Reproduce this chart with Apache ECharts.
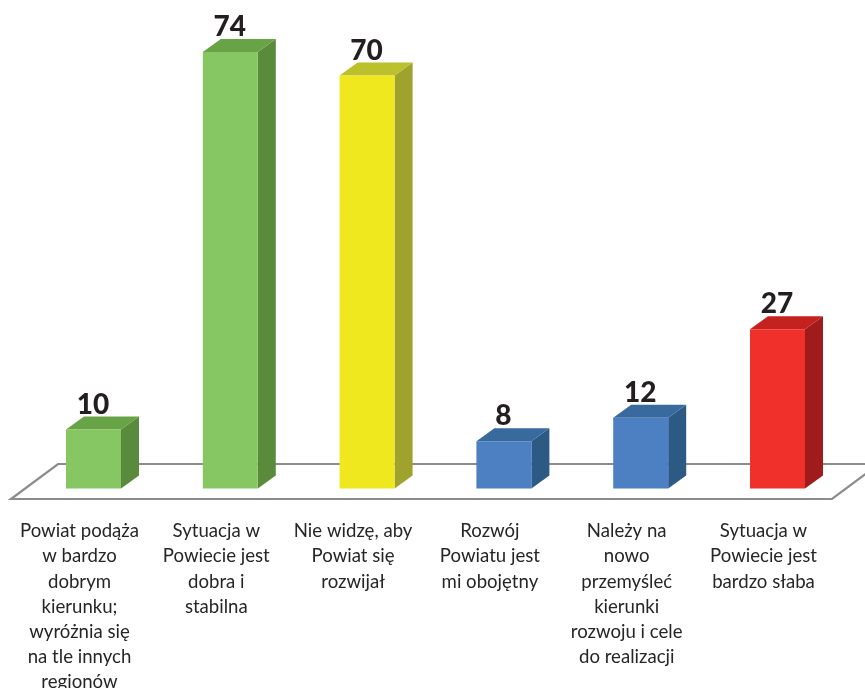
<!DOCTYPE html>
<html><head><meta charset="utf-8">
<style>html,body{margin:0;padding:0;background:#fff}#c{width:865px;height:688px}</style>
<script src="https://cdn.jsdelivr.net/npm/echarts@6/dist/echarts.min.js"></script>
</head><body><div id="c"></div>
<script>
const categories = [
  "Powiat podąża\nw bardzo\ndobrym\nkierunku;\nwyróżnia się\nna tle innych\nregionów",
  "Sytuacja w\nPowiecie jest\ndobra i\nstabilna",
  "Nie widzę, aby\nPowiat się\nrozwijał",
  "Rozwój\nPowiatu jest\nmi obojętny",
  "Należy na\nnowo\nprzemyśleć\nkierunki\nrozwoju i cele\ndo realizacji",
  "Sytuacja w\nPowiecie jest\nbardzo słaba"
];
const values = [10, 74, 70, 8, 12, 27];
const frontColors = ["#86c663","#86c663","#efe81f","#4d80c2","#4d80c2","#f0302b"];
const topColors   = ["#68a346","#68a346","#bcc02c","#386a9e","#386a9e","#c5211f"];
const sideColors  = ["#5a8a3c","#5a8a3c","#9fa32e","#2c5a85","#2c5a85","#a01b1c"];

const chart = echarts.init(document.getElementById('c'), null, {renderer:'canvas'});
const GRID = {left:25.1, width:820.8, top:16.5, height:472, containLabel:false, outerBoundsMode:'none'};
const DX = 18, DY = 13, WIDTH_RATIO = 0.402;

function renderBar(params, api){
  const i = api.value(0), v = api.value(1);
  const top = api.coord([i, v]), base = api.coord([i, 0]);
  const w = api.size([1,0])[0] * WIDTH_RATIO;
  const l = top[0]-w/2, r = top[0]+w/2, t = top[1], b = base[1];
  return {type:'group', children:[
    {type:'polygon', shape:{points:[[r,t],[r+DX,t-DY],[r+DX,b-DY],[r,b]]}, style:{fill:sideColors[i]}},
    {type:'polygon', shape:{points:[[l,t],[l+DX,t-DY],[r+DX,t-DY],[r,t]]}, style:{fill:topColors[i]}},
    {type:'rect', shape:{x:l,y:t,width:w,height:b-t}, style:{fill:frontColors[i]}},
    {type:'text', x:top[0]-0.5, y:t-DY+2, style:{text:String(v), fill:'#231f20',
      font:'900 28px Lato', textAlign:'center', textVerticalAlign:'bottom'}}
  ]};
}

chart.setOption({
  animation:false,
  backgroundColor:'#fff',
  grid:GRID,
  graphic:{elements:[{
    type:'polygon', z:0, silent:true,
    shape:{points:[[11,499],[832,499],[879,464],[58,464]]},
    style:{fill:'none', stroke:'#8c8c8c', lineWidth:2.2}
  }]},
  xAxis:{type:'category', data:categories,
    axisLine:{show:false}, axisTick:{show:false}, splitLine:{show:false},
    axisLabel:{interval:0, margin:30, color:'#262626', fontFamily:'Lato', fontSize:18.6, lineHeight:25.2, align:'center', verticalAlign:'top', padding:[0,28,0,0]}},
  yAxis:{type:'value', min:0, max:80, show:false, splitLine:{show:false}},
  series:[{type:'custom', clip:false, z:5,
    encode:{x:0,y:1},
    data:values.map((v,i)=>[i,v]),
    renderItem:renderBar}]
});
</script></body></html>
